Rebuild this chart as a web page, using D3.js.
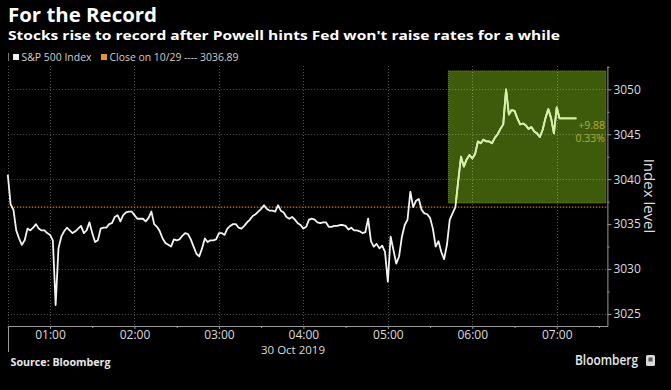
<!DOCTYPE html>
<html><head><meta charset="utf-8">
<script src="https://cdn.jsdelivr.net/npm/d3@7"></script>
<style>
html,body{margin:0;padding:0;background:#000;}
svg{display:block;}
text{font-family:"Open Sans","Noto Sans",sans-serif;}
</style></head><body>
<svg id="chart" width="671" height="390"></svg>
<script>
// ---------------- data ----------------
const title = "For the Record";
const subtitle = "Stocks rise to record after Powell hints Fed won't raise rates for a while";
const seriesName = "S&P 500 Index";
const closeLabel = "Close on 10/29 ---- 3036.89";
const prevClose = 3036.89;
const startTime = "2019-10-30 00:30";
const endTime = "2019-10-30 07:36";
const stepMinutes = 2;
const spxValues = [
  3040.5,3037.2,3036.6,3034.3,3033.4,3032.7,3033.2,3034.5,3034.3,3034.6,
  3035.0,3034.5,3034.3,3034.3,3034.0,3033.8,3033.2,3026.0,3032.3,3033.6,
  3034.2,3034.6,3034.3,3034.0,3034.2,3034.5,3034.8,3034.0,3034.3,3035.2,
  3034.0,3033.0,3033.2,3034.5,3034.6,3034.6,3035.0,3035.1,3035.8,3036.0,
  3035.3,3036.0,3036.3,3036.4,3036.4,3036.0,3035.6,3035.6,3035.6,3035.3,
  3035.7,3036.4,3035.0,3034.7,3034.2,3033.4,3032.9,3032.7,3032.5,3033.3,
  3033.2,3033.3,3033.7,3034.0,3033.9,3033.3,3032.5,3031.7,3031.4,3032.3,
  3033.4,3033.0,3033.2,3033.2,3033.3,3034.0,3034.0,3033.8,3034.5,3034.8,
  3035.0,3035.0,3034.6,3034.5,3034.8,3035.2,3035.5,3035.9,3036.1,3036.4,
  3036.7,3037.1,3036.7,3036.5,3036.5,3036.4,3037.1,3036.5,3036.3,3035.8,
  3035.6,3035.8,3035.5,3035.1,3034.9,3034.5,3034.7,3035.5,3035.6,3035.5,
  3035.2,3035.1,3035.2,3035.2,3034.7,3034.7,3034.8,3034.8,3034.9,3034.9,
  3034.8,3034.4,3034.6,3034.3,3034.3,3034.2,3034.0,3034.1,3035.6,3033.1,
  3032.5,3032.8,3032.3,3032.6,3031.9,3028.6,3033.6,3032.1,3030.6,3031.4,
  3033.6,3034.9,3035.5,3038.6,3036.9,3037.6,3037.8,3036.6,3036.2,3036.1,
  3035.7,3034.5,3032.5,3033.1,3031.9,3031.1,3032.7,3035.5,3036.2,3036.9,
  3039.8,3042.5,3041.4,3042.2,3042.7,3042.3,3042.8,3044.2,3044.0,3044.4,
  3044.2,3044.2,3044.0,3044.6,3045.0,3045.6,3046.1,3050.0,3047.2,3047.7,
  3047.6,3046.8,3046.1,3046.2,3046.0,3045.6,3045.8,3045.3,3045.1,3044.7,
  3045.5,3046.8,3047.8,3046.8,3045.1,3048.0,3046.77,3046.77,3046.77,3046.77,
  3046.77,3046.77,3046.77
];
const changeLabels = ["+9.88", "0.33%"];
const hourTicks = ["01:00","02:00","03:00","04:00","05:00","06:00","07:00"];
const halfHourTicks = ["00:30","01:30","02:30","03:30","04:30","05:30","06:30","07:30"];
const yTicks = [3025, 3030, 3035, 3040, 3045, 3050];
const yMinorTicks = [3027.5, 3032.5, 3037.5, 3042.5, 3047.5, 3052.5];
const yGridLevels = [3025, 3030, 3040, 3045, 3050];
const dateLabel = "30 Oct 2019";
const yAxisTitle = "Index level";
const highlightStart = "2019-10-30 05:43";
const highlightRange = [3037.35, 3052.05];
const sourceText = "Source: Bloomberg";
const brandText = "Bloomberg";

// ---------------- chart ----------------
const svg = d3.select("#chart");
const W = 671, H = 390;
svg.append("rect").attr("width", W).attr("height", H).attr("fill", "#000");

const parse = d3.timeParse("%Y-%m-%d %H:%M");
const day = "2019-10-30 ";
const t0 = parse(startTime);
const data = spxValues.map((v, i) => ({ t: d3.timeMinute.offset(t0, i * stepMinutes), v }));

const x = d3.scaleTime().domain([parse(startTime), parse(endTime)]).range([7.8, 607.4]);
const y = d3.scaleLinear().domain([3023.66, 3052.6]).range([326, 66]);
const [x0, x1] = x.range();
const [yb, yt] = y.range();

// highlight box
const hx = x(parse(highlightStart));
svg.append("rect")
  .attr("x", hx).attr("y", y(highlightRange[1]))
  .attr("width", x1 - 1.5 - hx).attr("height", y(highlightRange[0]) - y(highlightRange[1]))
  .attr("fill", "#3e5b0c")
  .attr("stroke", "#6f8f2c").attr("stroke-width", 1).attr("stroke-dasharray", "1,1");

// gridlines
const grid = svg.append("g").attr("stroke", "rgba(255,255,255,0.32)").attr("stroke-width", 1).attr("stroke-dasharray", "1,2");
grid.selectAll("line.h").data(yGridLevels).join("line")
  .attr("x1", x0).attr("x2", x1).attr("y1", d => Math.round(y(d)) + 0.5).attr("y2", d => Math.round(y(d)) + 0.5);
grid.selectAll("line.v").data(hourTicks.concat(["00:30"])).join("line")
  .attr("x1", d => Math.round(x(parse(day + d))) + 0.5).attr("x2", d => Math.round(x(parse(day + d))) + 0.5)
  .attr("y1", yt).attr("y2", yb);

// previous close line
svg.append("line")
  .attr("x1", x0).attr("x2", x1)
  .attr("y1", y(prevClose)).attr("y2", y(prevClose))
  .attr("stroke", "#c4762c").attr("stroke-width", 1.2).attr("stroke-dasharray", "1.5,1.5");

// series line
const line = d3.line().x(d => x(d.t)).y(d => y(d.v));
svg.append("path").datum(data).attr("d", line)
  .attr("fill", "none").attr("stroke", "#f4f4f4").attr("stroke-width", 1.8).attr("stroke-linejoin", "round");

svg.append("clipPath").attr("id", "hl").append("rect")
  .attr("x", hx).attr("y", y(highlightRange[1]))
  .attr("width", x1 - hx).attr("height", y(highlightRange[0]) - y(highlightRange[1]));
svg.append("path").datum(data).attr("d", line).attr("clip-path", "url(#hl)")
  .attr("fill", "none").attr("stroke", "#d6f0a4").attr("stroke-width", 1.8).attr("stroke-linejoin", "round");

// change labels
svg.selectAll("text.chg").data(changeLabels).join("text").attr("class", "chg")
  .attr("x", 605).attr("y", (d, i) => 128.5 + i * 13.3)
  .attr("text-anchor", "end").attr("font-size", 10.5).attr("fill", "#b3aa3a").text(d => d);

// x axis
const xAxis = svg.append("g").attr("transform", `translate(0,${yb})`)
  .call(d3.axisBottom(x).tickValues(hourTicks.map(h => parse(day + h)))
    .tickFormat(d3.timeFormat("%H:%M")).tickSize(3).tickPadding(1).tickSizeOuter(0));
xAxis.select(".domain").attr("stroke", "#9a9a9a");
xAxis.selectAll(".tick line").attr("stroke", "#9a9a9a");
xAxis.selectAll("text").attr("fill", "#dcdcdc").attr("font-size", 12).attr("font-family", "'Open Sans','Noto Sans',sans-serif");

const xMinor = svg.append("g").attr("transform", `translate(0,${yb})`)
  .call(d3.axisBottom(x).tickValues(halfHourTicks.map(h => parse(day + h))).tickSize(2).tickFormat(""));
xMinor.select(".domain").remove();
xMinor.selectAll(".tick line").attr("stroke", "#9a9a9a");

// day separator tick
svg.append("line").attr("x1", Math.round(x0) + 0.5).attr("x2", Math.round(x0) + 0.5)
  .attr("y1", yb).attr("y2", 352).attr("stroke", "#9a9a9a");

svg.append("text").attr("x", 293).attr("y", 353.5).attr("text-anchor", "middle")
  .attr("font-size", 11.5).attr("fill", "#dcdcdc").text(dateLabel);

// y axis (right)
const yAxis = svg.append("g").attr("transform", `translate(${x1},0)`)
  .call(d3.axisRight(y).tickValues(yTicks).tickFormat(d3.format("d")).tickSize(4).tickPadding(2).tickSizeOuter(0));
yAxis.select(".domain").attr("stroke", "#9a9a9a");
yAxis.selectAll(".tick line").attr("stroke", "#9a9a9a");
yAxis.selectAll("text").attr("fill", "#dcdcdc").attr("font-size", 12).attr("font-family", "'Open Sans','Noto Sans',sans-serif");
const yMinor = svg.append("g").attr("transform", `translate(${x1},0)`)
  .call(d3.axisRight(y).tickValues(yMinorTicks).tickSize(2).tickFormat(""));
yMinor.select(".domain").remove();
yMinor.selectAll(".tick line").attr("stroke", "#9a9a9a");

svg.append("text").attr("transform", "translate(644,196) rotate(90)")
  .attr("text-anchor", "middle").attr("font-size", 15).attr("fill", "#dcdcdc").text(yAxisTitle);

// titles
svg.append("text").attr("x", 8).attr("y", 22).attr("font-size", 19).attr("font-weight", 700)
  .attr("fill", "#fff").attr("textLength", 149).attr("lengthAdjust", "spacingAndGlyphs").text(title);
svg.append("text").attr("x", 8).attr("y", 40).attr("font-size", 12).attr("font-weight", 700)
  .attr("fill", "#fff").attr("textLength", 552).attr("lengthAdjust", "spacingAndGlyphs").text(subtitle);

// legend
const lg = svg.append("g");
lg.append("rect").attr("x", 8).attr("y", 53).attr("width", 1).attr("height", 8).attr("fill", "#777");
lg.append("rect").attr("x", 13).attr("y", 54).attr("width", 6).attr("height", 6).attr("fill", "#f0f0f0");
lg.append("text").attr("x", 21.5).attr("y", 60.5).attr("font-size", 10).attr("fill", "#cfcfcf")
  .attr("textLength", 70).attr("lengthAdjust", "spacingAndGlyphs").text(seriesName);
lg.append("rect").attr("x", 101).attr("y", 54).attr("width", 6).attr("height", 6).attr("fill", "#e0962a");
lg.append("text").attr("x", 109.5).attr("y", 60.5).attr("font-size", 10).attr("fill", "#cfcfcf")
  .attr("textLength", 129).attr("lengthAdjust", "spacingAndGlyphs").text(closeLabel);

// footer
svg.append("text").attr("x", 10.5).attr("y", 366).attr("font-size", 10).attr("font-weight", 700)
  .attr("fill", "#e8e8e8").attr("textLength", 100).attr("lengthAdjust", "spacingAndGlyphs").text(sourceText);
svg.append("text").attr("x", 575).attr("y", 365).attr("font-size", 13.5).attr("font-weight", 600)
  .attr("fill", "#e8e8e8").attr("textLength", 63).attr("lengthAdjust", "spacingAndGlyphs").text(brandText);
svg.append("rect").attr("x", 646).attr("y", 355).attr("width", 9).attr("height", 11).attr("rx", 1.5).attr("fill", "#d8d8d8");
svg.append("rect").attr("x", 648.5).attr("y", 357.5).attr("width", 4).attr("height", 4).attr("fill", "#555");
</script></body></html>
